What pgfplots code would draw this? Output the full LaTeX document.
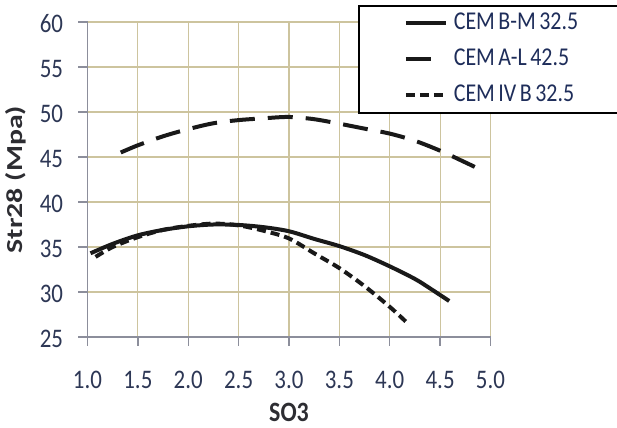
\documentclass[border=0pt]{standalone}
\usepackage{pgfplots}
\pgfplotsset{compat=1.18}
\usepackage{fontspec}
\setmainfont{Carlito}
\definecolor{gridc}{RGB}{205,196,158}
\definecolor{axc}{RGB}{140,142,155}
\definecolor{tickc}{RGB}{45,55,85}
\definecolor{legc}{RGB}{30,45,90}
\definecolor{labc}{RGB}{45,45,50}
\newcommand{\vs}[1]{\scalebox{1}[1.17]{#1}}
\pgfplotsset{
  longleg/.style={legend image code/.code={\path (-43bp,0bp); \draw[##1] (0bp,0bp) -- (40bp,0bp);}},
  shortleg/.style={legend image code/.code={\path (-43bp,0bp); \draw[##1] (0bp,0bp) -- (29bp,0bp); \path (40bp,0bp);}},
}
\begin{document}
\begin{tikzpicture}
\path[use as bounding box] (0,0) rectangle (617bp,428bp);
\begin{axis}[
  at={(87.5bp,91bp)}, anchor=south west,
  scale only axis, width=403bp, height=315bp,
  xmin=1, xmax=5, ymin=25, ymax=60,
  xtick={1,1.5,...,5}, ytick={25,30,...,60},
  grid=major, grid style={gridc, line width=1.1bp},
  axis x line*=bottom, axis y line*=left,
  axis line style={axc, line width=1.3bp, -},
  tick style={axc, line width=1.3bp},
  tick align=outside, major tick length=9bp,
  xticklabel style={font=\fontsize{23}{23}\selectfont, text=tickc, yshift=-22bp},
  yticklabel style={font=\fontsize{23}{23}\selectfont, text=tickc, xshift=-12bp, yshift=-2bp},
  xticklabel={\vs{\pgfmathprintnumber[fixed,fixed zerofill,precision=1,assume math mode=true]{\tick}}},
  yticklabel={\vs{\pgfmathprintnumber[assume math mode=true]{\tick}}},
  xlabel={\vs{\textbf{SO3}}},
  xlabel style={at={(axis description cs:0.5,0)}, anchor=center, yshift=-75bp,
    font=\fontsize{24}{24}\selectfont, text=labc},
  ylabel={\scalebox{1.3}[1]{\textbf{Str28 (Mpa)}}},
  ylabel style={at={(axis description cs:-0.1775,0.5)}, anchor=center,
    font=\fontsize{23}{23}\selectfont, text=labc},
  legend cell align=left,
  longleg,
  legend style={at={(rel axis cs:0.671,1.054)}, anchor=north west,
    draw=black, line width=1.8bp, fill=white,
    inner xsep=2bp, inner ysep=7bp, row sep=15bp, column sep=3bp,
    nodes={font=\fontsize{22}{22}\selectfont, text=legc, text width=160bp,
      text height=17bp, text depth=4bp, inner ysep=0bp, inner xsep=3bp}},
]
\addplot[black!90, line width=4bp, smooth] coordinates {
(1.03,34.3) (1.25,35.35) (1.5,36.3) (1.75,36.9) (2.0,37.3) (2.25,37.5)
(2.5,37.45) (2.75,37.2) (3.0,36.75) (3.25,35.9) (3.5,35.1) (3.75,34.1)
(4.0,32.85) (4.25,31.45) (4.4,30.4) (4.59,29.0)};
\addlegendentry{\vs{CEM\kern3.5bp B-M\kern3.5bp 32.5}}
\addplot[black!90, line width=4bp, smooth, dash pattern=on 25bp off 13bp, shortleg] coordinates {
(1.33,45.5) (1.5,46.3) (1.75,47.3) (2.0,48.1) (2.25,48.75) (2.5,49.1)
(2.75,49.3) (3.0,49.45) (3.25,49.2) (3.5,48.7) (3.75,48.15) (4.0,47.6)
(4.25,46.8) (4.5,45.7) (4.75,44.4) (4.9,43.6)};
\addlegendentry{\vs{CEM\kern3.5bp A-L\kern3.5bp 42.5}}
\addplot[black!90, line width=4bp, smooth, dash pattern=on 9bp off 5bp] coordinates {
(1.08,33.9) (1.25,35.0) (1.5,36.1) (1.75,36.9) (2.0,37.35) (2.25,37.6)
(2.5,37.4) (2.75,36.8) (3.0,35.95) (3.25,34.3) (3.5,32.65) (3.75,30.65)
(4.0,28.35) (4.17,26.6)};
\addlegendentry{\vs{CEM\kern3.5bp IV\kern3.5bp B\kern3.5bp 32.5}}
\end{axis}
\end{tikzpicture}
\end{document}
